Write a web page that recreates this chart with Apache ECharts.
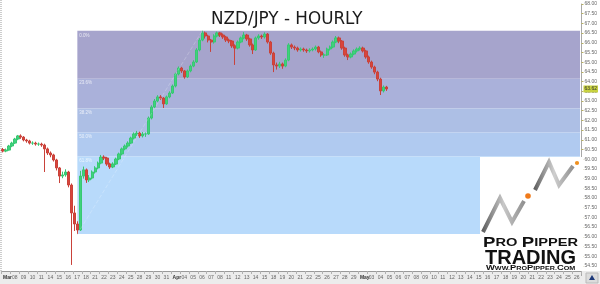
<!DOCTYPE html>
<html><head><meta charset="utf-8">
<script src="https://cdn.jsdelivr.net/npm/echarts@6/dist/echarts.min.js"></script>
<style>html,body{margin:0;padding:0;background:#fff}#c{width:600px;height:284px}</style>
</head><body><div id="c"></div>
<script>
// ---- data ----
const title = 'NZD/JPY - HOURLY';
const days = ['Mar','08','09','10','11','14','15','16','17','18','21','22','23','24','25','28','29','30','31',
  'Apr','04','05','06','07','08','11','12','13','14','15','18','19','20','21','22','25','26','27','28','29',
  'May','03','04','05','06','07','08','09','10','11','12','13','14','15','16','17','18','19','20','21','22','23','24','25','26'];
const monthNames = ['Mar','Apr','May'];
const barsPerDay = 3;
const opens = [60.50,60.42,60.47,60.68,60.83,61.04,61.20,61.14,60.99,60.94,60.83,60.83,60.78,60.78,60.73,60.53,60.32,60.22,59.96,59.55,
  59.13,59.19,59.34,58.67,57.23,56.66,56.35,59.13,59.45,58.93,59.03,59.34,59.55,59.80,60.11,60.06,59.75,59.60,59.75,60.01,
  60.27,60.53,60.68,60.83,61.09,61.30,61.35,61.20,61.30,61.30,62.12,62.69,63.00,63.21,63.15,62.85,63.21,63.41,63.77,64.39,
  64.70,64.55,64.24,64.55,64.80,65.01,65.63,66.14,66.51,66.35,66.14,66.04,66.35,66.51,66.40,66.30,66.14,66.09,65.84,65.73,
  66.04,66.25,66.40,66.20,65.89,65.63,66.25,66.35,66.30,66.45,66.04,65.47,64.86,64.80,64.91,64.80,65.11,65.89,65.78,65.73,
  65.63,65.68,65.63,65.58,65.63,65.68,65.78,65.53,65.37,65.37,65.68,65.78,66.04,66.25,66.09,65.73,65.37,65.27,65.42,65.58,
  65.68,65.73,65.58,65.27,65.01,64.75,64.49,64.13,63.52,63.72];
const closes = [60.42,60.47,60.68,60.83,61.04,61.20,61.14,60.99,60.94,60.83,60.83,60.78,60.78,60.73,60.53,60.32,60.22,59.96,59.55,59.13,
  59.19,59.34,58.67,57.23,56.66,56.35,59.13,59.45,58.93,59.03,59.34,59.55,59.80,60.11,60.06,59.75,59.60,59.75,60.01,60.27,
  60.53,60.68,60.83,61.09,61.30,61.35,61.20,61.30,61.30,62.12,62.69,63.00,63.21,63.15,62.85,63.21,63.41,63.77,64.39,64.70,
  64.55,64.24,64.55,64.80,65.01,65.63,66.14,66.51,66.35,66.14,66.04,66.35,66.51,66.40,66.30,66.14,66.09,65.84,65.73,66.04,
  66.25,66.40,66.20,65.89,65.63,66.25,66.35,66.30,66.45,66.04,65.47,64.86,64.80,64.91,64.80,65.11,65.89,65.78,65.73,65.63,
  65.68,65.63,65.58,65.63,65.68,65.78,65.53,65.37,65.37,65.68,65.78,66.04,66.25,66.09,65.73,65.37,65.27,65.42,65.58,65.68,
  65.73,65.58,65.27,65.01,64.75,64.49,64.13,63.52,63.72,63.62];
const lows = [60.35,60.36,60.44,60.62,60.78,60.98,61.05,60.92,60.85,60.76,60.74,60.70,60.69,60.64,59.34,60.22,60.10,59.88,59.42,58.77,
  59.02,59.10,58.55,54.55,56.30,56.14,56.30,59.00,58.78,58.82,58.96,59.26,59.48,59.74,59.95,59.66,59.50,59.54,59.70,59.95,
  60.20,60.46,60.60,60.78,61.02,61.20,61.10,61.12,61.15,61.26,62.05,62.62,62.94,63.05,62.64,62.80,63.14,63.36,63.70,64.32,
  64.45,64.15,64.18,64.48,64.74,64.96,65.56,66.08,66.22,66.02,65.53,65.96,66.28,66.30,66.20,66.04,65.98,65.74,64.86,65.66,
  65.98,66.18,66.10,65.80,65.42,65.58,66.16,66.20,66.22,65.96,65.38,64.49,64.62,64.70,64.66,64.74,65.05,65.68,65.62,65.54,
  65.55,65.54,65.48,65.50,65.56,65.60,65.46,65.28,65.22,65.32,65.60,65.72,65.98,65.98,65.64,65.28,65.11,65.20,65.36,65.50,
  65.60,65.50,65.18,64.92,64.66,64.38,64.02,63.31,63.44,63.52];
const highs = [60.58,60.55,60.74,60.90,61.10,61.25,61.28,61.19,61.05,61.00,60.92,60.90,60.86,60.85,60.80,60.60,60.40,60.28,60.02,59.60,
  59.36,59.48,59.40,58.75,57.60,56.80,59.40,59.62,59.52,59.18,59.42,59.64,59.88,60.22,60.20,60.12,59.82,59.84,60.08,60.34,
  60.60,60.76,60.92,61.16,61.38,61.46,61.42,61.40,61.38,62.20,62.78,63.10,63.30,63.30,63.20,63.28,63.50,63.85,64.46,64.78,
  64.76,64.60,64.62,64.88,65.10,65.72,66.24,66.62,66.58,66.42,66.20,66.44,66.58,66.56,66.48,66.36,66.22,66.14,65.92,66.12,
  66.32,66.55,66.46,66.26,65.96,66.32,66.44,66.42,66.54,66.50,66.10,65.54,64.98,65.02,64.98,65.20,65.98,65.96,65.86,65.80,
  65.76,65.75,65.70,65.72,65.76,65.86,65.84,65.60,65.46,65.75,65.86,66.12,66.35,66.32,66.14,65.80,65.44,65.50,65.66,65.76,
  65.82,65.80,65.64,65.34,65.08,64.82,64.56,64.20,63.80,63.78];
const yMin = 54, yMax = 68, yStep = 0.5;
const fibHigh = 66.62, fibLow = 56.14;
const fibStartBar = 25, fibHighBar = 67;
const fibLevels = [0, 23.6, 38.2, 50, 61.8, 100];
const fibLabels = ['0.0%', '23.6%', '38.2%', '50.0%', '61.8%'];

// ---- build ----
const categories = [];
for (let d = 0; d < days.length; d++) for (let k = 0; k < barsPerDay; k++) categories.push(String(d * barsPerDay + k));
const candles = opens.map((o, i) => [o, closes[i], lows[i], highs[i]]);
const lastClose = closes[closes.length - 1];
const fibPrice = lv => fibHigh - (fibHigh - fibLow) * lv / 100;
const bandColors = ['#a6a4cc', '#aab1da', '#adbfe5', '#b0caf0', '#b8dafb'];
const fibAreas = [];
for (let j = 0; j < fibLevels.length - 1; j++) {
  fibAreas.push([
    { name: fibLabels[j], xAxis: String(fibStartBar), yAxis: fibPrice(fibLevels[j]), itemStyle: { color: bandColors[j] } },
    { xAxis: categories[categories.length - 1], yAxis: fibPrice(fibLevels[j + 1]) }
  ]);
}

const chart = echarts.init(document.getElementById('c'), null, { renderer: 'canvas' });
const FF = 'Liberation Sans';
chart.setOption({
  animation: false,
  backgroundColor: '#fff',
  title: {
    text: title, left: 206, top: 6,
    textStyle: { fontFamily: 'DejaVu Sans', fontSize: 16.8, fontWeight: 'normal', color: '#1b1b1b' }
  },
  grid: { left: 1, right: 16, top: 4, bottom: 8.4, containLabel: false },
  xAxis: {
    type: 'category', data: categories, boundaryGap: true, offset: -4.6,
    axisLine: { show: true, lineStyle: { color: '#9a9a9a', width: 1 } },
    axisTick: { show: true, length: 3, interval: i => i % barsPerDay === 0, lineStyle: { color: '#b0b0b0' } },
    axisLabel: {
      interval: i => i % barsPerDay === 0, align: 'left', margin: 4,
      fontFamily: FF, fontSize: 5, color: '#666',
      formatter: (v, i) => { const t = days[Math.floor(i / barsPerDay)]; return monthNames.includes(t) ? '{m|' + t + '}' : t; },
      rich: { m: { fontFamily: FF, fontSize: 5, fontWeight: 'bold', color: '#333' } }
    },
    splitLine: { show: false }
  },
  yAxis: {
    type: 'value', position: 'right', min: yMin, max: yMax, interval: yStep,
    axisLine: { show: true, lineStyle: { color: '#a8a8a8' } },
    axisTick: { show: true, length: 2, lineStyle: { color: '#b8b060' } },
    axisLabel: { fontFamily: FF, fontSize: 5, color: '#666', margin: 3, showMinLabel: false, formatter: v => v.toFixed(2) },
    splitLine: { show: false }
  },
  series: [{
    type: 'candlestick', data: candles, barWidth: 2.8,
    itemStyle: { color: '#3fd27c', color0: '#d9443b', borderColor: '#37c872', borderColor0: '#c9423a', borderWidth: 1 },
    markArea: {
      silent: true,
      label: { show: true, position: 'insideTopLeft', distance: 2, fontFamily: FF, fontSize: 4.5, color: 'rgba(255,255,255,0.75)' },
      data: fibAreas
    },
    markLine: {
      silent: true, symbol: 'none', animation: false,
      data: [
        [{ coord: [String(fibStartBar), fibLow], lineStyle: { color: 'rgba(255,255,255,0.22)', width: 1 } }, { coord: [String(fibHighBar), fibHigh] }],
        { yAxis: lastClose, lineStyle: { color: 'rgba(0,0,0,0)', width: 1 },
          label: { show: true, position: 'end', distance: 2, formatter: () => lastClose.toFixed(2),
            backgroundColor: '#c8d240', color: '#333', fontFamily: FF, fontSize: 5, padding: [1, 1] } }
      ],
      label: { show: false }
    }
  }],
  graphic: [
    { type: 'rect', z: -1, shape: { x: 0, y: 271, width: 600, height: 13 }, style: { fill: '#ececec' } },
    { type: 'line', z: 1, shape: { x1: 1, y1: 0, x2: 1, y2: 271 }, style: { stroke: '#9a9a9a', lineDash: [1, 1], lineWidth: 1 } },
    { type: 'rect', z: 1, shape: { x: 586, y: 273, width: 12, height: 10 }, style: { fill: '#dcdcdc', stroke: '#bbb' } },
    { type: 'polygon', z: 2, shape: { points: [[592, 275], [595, 280], [589, 280]] }, style: { fill: '#1f3a7a' } },
    // logo
    { type: 'rect', z: 50, shape: { x: 480, y: 157, width: 103.5, height: 114 }, style: { fill: '#ffffff' } },
    { type: 'polyline', z: 51, shape: { points: [[483, 232], [500, 198], [512, 222], [524, 201]] },
      style: { lineWidth: 4, lineJoin: 'miter', stroke: new echarts.graphic.LinearGradient(0, 0, 1, 0, [{ offset: 0, color: '#555' }, { offset: 0.5, color: '#c8c8c8' }, { offset: 1, color: '#8a8a8a' }]) } },
    { type: 'polyline', z: 51, shape: { points: [[535, 190], [549, 162], [559, 185], [573, 166]] },
      style: { lineWidth: 4, lineJoin: 'miter', stroke: new echarts.graphic.LinearGradient(0, 0, 1, 0, [{ offset: 0, color: '#555' }, { offset: 0.5, color: '#cfcfcf' }, { offset: 1, color: '#8a8a8a' }]) } },
    { type: 'circle', z: 52, shape: { cx: 528, cy: 196, r: 2.8 }, style: { fill: '#f07a1a' } },
    { type: 'circle', z: 52, shape: { cx: 577, cy: 163, r: 2.1 }, style: { fill: '#f0901e' } },
    { type: 'text', z: 52, x: 483, y: 243, scaleX: 1.33,
      style: { text: '{a|P}{b|RO} {a|P}{b|IPPER}', x: 0, y: 0, align: 'left', verticalAlign: 'middle',
        rich: { a: { fontFamily: FF, fontWeight: 'bold', fontSize: 14, fill: '#111' }, b: { fontFamily: FF, fontWeight: 'bold', fontSize: 11, fill: '#111' } } } },
    { type: 'text', z: 52, x: 485, y: 258,
      style: { text: 'TRADING', x: 0, y: 0, align: 'left', verticalAlign: 'middle', fontFamily: FF, fontWeight: 'bold', fontSize: 20, fill: '#111' } },
    { type: 'text', z: 52, x: 486, y: 268.5, scaleX: 1.44,
      style: { text: '{a|W}{b|WW.}{a|P}{b|RO}{a|P}{b|IPPER.}{a|C}{b|OM}', x: 0, y: 0, align: 'left', verticalAlign: 'middle',
        rich: { a: { fontFamily: FF, fontWeight: 'bold', fontSize: 6.5, fill: '#111' }, b: { fontFamily: FF, fontWeight: 'bold', fontSize: 5, fill: '#111' } } } }
  ]
});
</script>
</body></html>
